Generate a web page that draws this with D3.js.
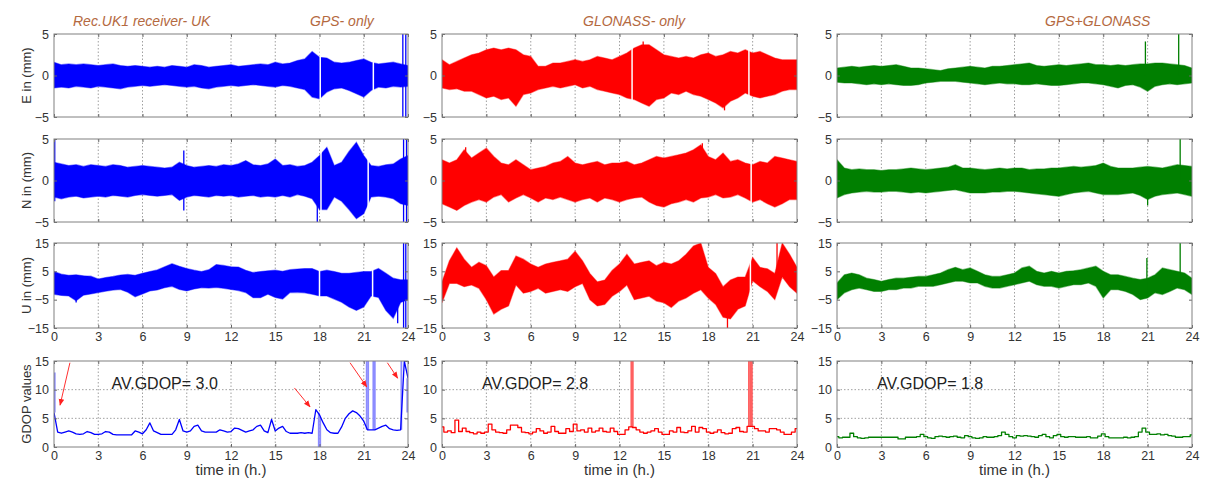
<!DOCTYPE html>
<html>
<head>
<meta charset="UTF-8">
<script src="https://cdn.jsdelivr.net/npm/d3@7"></script>
<style>
  body { margin: 0; background: #fff; }
  svg { font-family: "Liberation Sans", Arial, sans-serif; }
  .tick text { fill: #333; font-size: 12.5px; }
  .tick line { stroke: #666; }
  .domain { display: none; }
</style>
</head>
<body>
<div id="chart"></div>
<script>
// time axis (hours), 0.5 h steps for the position envelopes
var hours = [0,0.5,1,1.5,2,2.5, 3,3.5,4,4.5,5,5.5, 6,6.5,7,7.5,8,8.5, 9,9.5,10,10.5,11,11.5,
  12,12.5,13,13.5,14,14.5, 15,15.5,16,16.5,17,17.5, 18,18.5,19,19.5,20,20.5, 21,21.5,22,22.5,23,23.5, 24];
// 0.25 h steps for GDOP
var hoursQ = [0,0.25,0.5,0.75,1,1.25,1.5,1.75, 2,2.25,2.5,2.75,3,3.25,3.5,3.75, 4,4.25,4.5,4.75,5,5.25,5.5,5.75,
  6,6.25,6.5,6.75,7,7.25,7.5,7.75, 8,8.25,8.5,8.75,9,9.25,9.5,9.75, 10,10.25,10.5,10.75,11,11.25,11.5,11.75,
  12,12.25,12.5,12.75,13,13.25,13.5,13.75, 14,14.25,14.5,14.75,15,15.25,15.5,15.75, 16,16.25,16.5,16.75,17,17.25,17.5,17.75,
  18,18.25,18.5,18.75,19,19.25,19.5,19.75, 20,20.25,20.5,20.75,21,21.25,21.5,21.75, 22,22.25,22.5,22.75,23,23.25,23.5,23.75, 24];

var hourTicks = [0,3,6,9,12,15,18,21,24];
var enTicks = [-5,0,5];
var uTicks = [-15,-5,5,15];
var gdopTicks = [0,5,10,15];

// ---- GPS only (blue) ----  upper / lower envelope of the noise band, mm
var gpsEhi = [1.6,1.3,1.4,1.3,1.4,1.3, 1.2,1.3,1.4,1.2,1.1,1.2, 1.1,1.0,1.1,1.0,1.2,1.1, 1.0,1.3,1.2,1.0,1.1,1.2,
  1.3,1.1,1.2,1.3,1.4,1.3, 1.6,1.4,1.5,1.8,2.0,2.9, 2.2,2.1,1.6,1.5,1.6,1.8, 2.0,1.6,1.4,1.5,1.6,1.4, 1.2];
var gpsElo = [-1.5,-1.4,-1.5,-1.3,-1.4,-1.5, -1.3,-1.4,-1.5,-1.6,-1.4,-1.3, -1.2,-1.3,-1.2,-1.1,-1.2,-1.3, -1.4,-1.3,-1.5,-1.6,-1.4,-1.3,
  -1.2,-1.3,-1.2,-1.1,-1.2,-1.3, -1.4,-1.2,-1.3,-1.5,-1.7,-2.6, -2.8,-2.0,-1.6,-1.5,-1.8,-2.2, -2.6,-1.8,-1.4,-1.5,-1.3,-1.4, -1.3];
var gpsNhi = [2.2,2.0,1.8,1.9,1.7,1.9, 1.8,1.7,1.9,1.8,1.6,1.7, 1.8,1.7,1.6,1.5,1.6,2.2, 1.8,1.6,1.7,1.8,1.7,1.9,
  1.8,2.0,2.4,1.9,1.8,2.0, 2.6,1.8,1.9,1.7,1.8,2.2, 3.0,4.0,1.8,2.2,3.5,4.6, 3.0,1.8,1.7,1.9,2.0,2.6, 3.0];
var gpsNlo = [-2.0,-2.2,-2.0,-1.9,-2.1,-2.0, -1.9,-2.0,-1.8,-1.9,-2.0,-1.8, -1.7,-1.8,-1.9,-1.8,-1.7,-2.4, -2.0,-1.8,-1.9,-2.0,-1.8,-1.9,
  -1.8,-2.0,-1.9,-1.8,-2.0,-1.9, -2.0,-1.8,-2.0,-1.7,-1.9,-2.2, -3.5,-3.5,-2.0,-2.5,-3.5,-4.6, -4.0,-2.0,-1.9,-2.0,-2.2,-2.8, -3.0];
var gpsUhi = [4.9,4.0,3.6,3.8,3.4,3.3, 2.3,2.8,3.2,3.7,3.9,3.6, 4.3,4.9,5.5,6.6,7.7,6.8, 6.0,5.4,4.9,5.6,7.4,7.1,
  6.6,6.5,5.4,4.6,4.9,5.2, 5.4,5.0,5.6,5.8,6.0,6.0, 4.9,5.4,4.9,4.3,4.3,4.6, 4.9,4.9,6.0,4.3,2.6,2.0, 2.0];
var gpsUlo = [-3.1,-3.5,-3.7,-5.4,-3.4,-3.0, -2.5,-2.0,-1.6,-1.4,-2.4,-4.0, -3.0,-1.9,-1.6,-0.8,-0.3,-1.4, -1.9,-1.2,-0.8,-0.9,-0.7,-1.0,
  -1.4,-1.8,-2.5,-4.3,-4.3,-3.1, -4.2,-4.8,-2.5,-2.4,-2.6,-3.1, -3.7,-3.7,-4.8,-5.9,-7.6,-8.8, -7.6,-3.7,-4.2,-8.8,-11.6,-6.0, -5.0];
var gpsGdop = [6.0,2.6,2.4,2.6,2.8,2.6,2.3,2.2, 2.3,2.7,2.5,2.2,2.2,2.3,2.7,2.6, 2.2,2.1,2.1,2.1,2.1,2.1,2.8,2.6,
  2.3,3.0,4.2,2.8,2.5,2.2,2.2,2.2, 2.2,3.0,4.8,2.8,2.6,2.8,3.6,3.8, 2.8,2.6,2.6,2.6,2.6,3.0,2.8,2.6,
  2.7,3.3,3.2,2.9,2.6,2.8,3.0,3.6, 3.8,2.8,2.5,4.8,2.8,3.3,3.6,2.7, 2.4,2.4,2.4,2.5,2.4,2.5,2.4,6.5,
  5.6,4.2,3.0,2.5,2.4,2.4,3.5,5.0, 5.8,6.3,6.0,5.4,4.5,3.0,3.0,3.0, 3.3,3.6,3.8,3.2,3.0,2.9,3.0,15, 12];
// single-epoch spikes [hour, low, high] and data gaps [hour]
var gpsEspikes = [[23.65,-5,5],[23.85,-5,5]];
var gpsNspikes = [[0.05,-2.5,5],[8.8,-3.6,3.6],[17.85,-5,2],[23.7,-5,5],[23.9,-5,5]];
var gpsUspikes = [[1.5,-6,0],[23.3,-13.3,-5],[23.7,-15,15],[23.85,-15,15]];
var gpsGspikes = [[0.05,6,13],[17.95,0,6],[18.05,0,5],[21.2,3,15],[21.3,3,15],[21.65,3,15],[21.75,3,15],[23.55,3,15],[23.95,6,12]];
var gpsEgaps = [18.05,21.65];
var gpsNgaps = [18.1,21.3];
var gpsUgaps = [18.0,21.6];
var gdopArrows = [[1.08,14.7,0.41,7.3],[16.3,10.3,17.36,7.0],[20.07,14.7,21.2,10.5],[22.6,14.7,23.3,12.0]];

// ---- GLONASS only (red) ----
var gloEhi = [1.9,1.3,1.7,2.1,2.5,2.7, 3.1,3.3,3.1,3.3,3.1,2.5, 2.3,1.1,1.1,1.5,1.5,1.7, 1.9,1.7,1.9,2.3,2.1,1.9,
  2.3,2.7,3.3,3.7,3.7,3.1, 2.5,2.3,2.1,2.3,2.1,2.5, 2.7,2.3,2.5,2.9,2.7,3.1, 2.7,2.9,2.5,2.1,1.9,1.9, 1.9];
var gloElo = [-1.5,-1.7,-1.6,-1.9,-1.9,-2.3, -2.7,-2.5,-2.9,-2.7,-3.7,-2.3, -2.1,-1.7,-1.5,-1.3,-1.5,-1.3, -1.1,-1.5,-1.3,-1.7,-1.9,-2.1,
  -2.3,-2.7,-2.9,-3.3,-3.7,-2.9, -2.7,-2.1,-2.3,-1.9,-2.3,-2.5, -2.9,-3.3,-3.9,-3.1,-2.7,-2.1, -2.5,-2.7,-2.5,-2.3,-1.9,-1.7, -1.7];
var gloNhi = [2.5,2.1,2.5,3.7,2.7,3.3, 3.9,2.9,2.1,1.9,2.5,1.9, 1.3,1.5,1.7,2.1,2.3,2.9, 2.1,1.9,2.1,2.3,1.9,2.1,
  2.1,2.3,1.9,2.1,2.5,2.9, 2.7,2.9,3.1,3.3,3.7,4.3, 2.9,2.5,3.3,2.3,2.5,2.1, 1.9,2.3,2.1,2.9,2.7,2.5, 2.3];
var gloNlo = [-2.8,-3.2,-3.6,-3.0,-2.6,-2.3, -2.6,-2.0,-1.7,-2.6,-2.1,-1.7, -2.1,-2.6,-2.1,-2.3,-2.0,-2.3, -2.6,-2.3,-2.1,-2.6,-2.1,-2.3,
  -2.6,-2.3,-2.1,-2.0,-2.6,-3.0, -3.2,-2.8,-2.6,-2.3,-2.6,-2.1, -2.0,-1.7,-2.1,-2.0,-1.7,-2.1, -2.6,-2.3,-2.8,-3.2,-2.8,-2.3, -2.3];
var gloUhi = [1.3,8.7,13.3,9.3,6.4,8.2, 7.0,3.0,5.3,5.3,10.4,9.3, 7.6,6.4,7.6,8.2,8.7,9.3, 12.1,8.7,4.2,1.3,1.9,5.3,
  7.6,11.0,7.6,8.2,8.7,7.0, 8.2,7.6,8.7,11.0,13.9,15, 6.4,4.2,-0.4,1.9,3.0,3.0, 9.9,6.4,5.9,4.2,15,11.0, 6.4];
var gloUlo = [-6.1,0.7,0.7,-0.4,0.2,-1.0, -5.0,-10.1,-8.4,-7.2,0.2,-2.7, -2.1,-1.0,-2.7,-2.1,-1.5,-2.1, -0.4,0.7,-5.0,-7.2,-6.7,-3.8,
  -2.1,0.2,-5.0,-4.4,-3.8,-5.5, -6.1,-7.8,-5.5,-4.4,-2.7,-1.5, -4.4,-6.7,-11.2,-11.8,-8.4,-7.2, 1.7,-0.4,-2.1,-5.0,3.0,-0.4, -2.7];
var gloGdop = [3.5,2.6,2.8,2.5,4.7,2.7,3.3,2.7, 2.5,2.3,2.6,2.4,2.6,4.0,3.0,2.6, 2.5,2.4,3.0,3.8,3.8,3.4,2.6,2.5,
  2.3,2.6,3.2,2.8,2.4,2.6,3.6,2.7, 2.4,2.4,3.2,2.7,4.0,2.8,3.0,2.6, 3.3,2.6,2.8,3.3,2.7,2.6,3.3,2.7,
  2.2,2.2,3.0,3.5,3.4,3.0,2.6,2.4, 2.6,2.8,3.2,2.6,2.2,2.2,2.8,2.6, 3.4,2.6,2.5,2.8,3.6,2.6,3.4,3.2,
  2.6,2.4,2.6,3.0,2.5,2.3,2.4,3.2, 3.4,2.7,2.6,3.6,3.6,3.2,2.8,2.8, 2.6,3.2,3.2,3.0,2.6,2.2,2.2,2.6, 3.2];
var gloEspikes = [[13.6,0,4.1],[19.1,-4.2,0]];
var gloNspikes = [[1.6,0,4.0],[17.6,0,4.5]];
var gloUspikes = [[19.3,-15,-8],[22.65,2,15]];
var gloGspikes = [[12.8,3.5,15],[12.9,3.5,15],[20.75,3.6,15],[20.85,3.6,15],[20.95,3.6,15]];
var gloEgaps = [12.85,20.75];
var gloNgaps = [20.9];
var gloUgaps = [20.85];

// ---- GPS + GLONASS (green) ----
var bothEhi = [0.9,1.0,1.1,1.0,1.1,1.2, 1.1,1.2,1.3,1.1,0.9,0.9, 0.8,0.7,0.6,0.8,0.9,1.0, 1.1,1.0,0.9,1.1,1.1,1.2,
  1.3,1.4,1.5,1.2,1.1,1.2, 1.3,1.2,1.3,1.4,1.5,1.3, 1.3,1.2,1.3,1.2,1.3,1.4, 1.4,1.5,1.5,1.4,1.3,1.2, 0.9];
var bothElo = [-0.8,-0.9,-0.9,-1.0,-1.1,-1.0, -1.1,-1.0,-1.1,-1.2,-1.2,-1.1, -0.9,-0.8,-0.7,-0.7,-0.7,-0.8, -0.9,-1.0,-1.1,-1.0,-0.9,-1.0,
  -1.0,-1.1,-1.1,-1.0,-1.1,-1.2, -1.2,-1.1,-1.0,-0.9,-0.9,-1.0, -1.1,-1.3,-1.5,-1.2,-1.1,-1.4, -1.9,-1.3,-1.1,-1.0,-1.1,-1.0, -0.9];
var bothNhi = [2.5,1.5,1.3,1.4,1.3,1.3, 1.2,1.3,1.3,1.4,1.5,1.4, 1.3,1.4,1.5,1.6,1.9,1.5, 1.5,1.4,1.3,1.4,1.5,1.4,
  1.5,1.5,1.3,1.4,1.4,1.5, 1.5,1.6,1.7,1.6,1.7,1.8, 2.1,1.7,1.5,1.5,1.5,1.6, 1.7,1.6,1.5,1.7,1.9,1.8, 1.7];
var bothNlo = [-2.1,-1.7,-1.5,-1.4,-1.3,-1.4, -1.4,-1.3,-1.3,-1.4,-1.5,-1.4, -1.5,-1.4,-1.3,-1.2,-1.1,-1.3, -1.5,-1.5,-1.5,-1.4,-1.4,-1.3,
  -1.3,-1.4,-1.5,-1.6,-1.7,-1.8, -1.9,-1.7,-1.5,-1.4,-1.3,-1.5, -1.7,-1.7,-1.7,-1.6,-1.5,-1.8, -2.3,-1.9,-1.7,-1.6,-1.5,-1.7, -1.9];
var bothUhi = [0.9,3.8,4.4,3.8,2.6,2.1, 1.5,2.1,2.6,2.6,2.9,3.2, 3.2,3.8,4.4,5.6,6.4,5.6, 6.2,5.0,3.8,3.2,3.2,3.8,
  4.4,6.2,6.8,5.0,4.4,5.0, 4.4,5.0,5.2,5.6,6.2,6.8, 5.0,3.8,3.8,3.2,2.6,2.1, 2.6,3.8,6.2,5.6,5.0,4.4, 2.6];
var bothUlo = [-5.0,-2.6,-1.5,-0.9,-1.5,-2.1, -2.1,-1.5,-1.5,-0.9,-0.9,-0.3, -0.3,-0.3,0.3,0.9,1.5,1.5, 0.9,0.9,-0.3,-0.9,-0.9,-0.3,
  0.3,0.9,1.5,0.3,-0.3,-0.3, -0.9,-0.3,0.3,0.3,0.9,-0.3, -4.4,-1.5,-1.5,-2.1,-3.2,-5.0, -4.4,-2.6,-3.2,-2.1,-0.9,-1.5, -3.2];
var bothGdop = [1.8,1.6,1.7,1.7,2.4,1.8,1.6,1.5, 1.6,1.7,1.7,1.7,1.7,1.7,1.7,1.7, 1.7,1.4,1.4,1.7,1.7,1.7,1.8,2.2,
  1.8,1.6,1.5,1.8,1.9,1.8,1.7,1.8, 1.9,1.7,1.6,2.0,1.8,1.6,1.5,1.6, 1.8,1.7,1.7,1.8,2.0,2.6,2.2,1.8,
  1.6,2.0,1.9,2.0,1.9,1.8,1.7,2.0, 2.2,1.8,1.6,2.0,2.2,1.8,1.7,1.8, 1.8,1.7,1.7,1.7,1.8,1.6,1.6,1.9,
  2.3,1.8,1.6,1.6,1.6,1.6,1.7,1.6, 1.7,1.8,2.6,3.3,2.6,2.2,2.2,2.3, 2.1,2.2,2.0,1.9,1.7,1.7,1.8,1.8, 2.1];
var bothEspikes = [[20.85,0,4.1],[23.1,0,5]];
var bothNspikes = [[21.0,-3.0,0],[23.2,0,5]];
var bothUspikes = [[20.95,-3,9.7],[23.2,0,15]];

var gdopAverages = ["AV.GDOP= 3.0", "AV.GDOP= 2.8", "AV.GDOP= 1.8"];
var gdopLabelAt = [[3.9, 10.1], [2.7, 10.1], [2.7, 10.1]];   // [hour, GDOP] of the label baseline
var columnTitles = [[["Rec.UK1 receiver- UK", 73], ["GPS- only", 310]], [["GLONASS- only", 583]], [["GPS+GLONASS", 1045]]];
var rowLabels = ["E in (mm)", "N in (mm)", "U in (mm)", "GDOP values"];

// ---- layout ----
var width = 1205, height = 485;
var cols = [[54, 408], [442, 797], [837, 1192]];
var rows = [[34, 117], [139, 222], [243, 328], [361, 447]];

var columns = [
  { color: "#0000ff", light: "#8c8cff", curve: d3.curveLinear,
    bands: [[gpsEhi, gpsElo, gpsEspikes, gpsEgaps], [gpsNhi, gpsNlo, gpsNspikes, gpsNgaps], [gpsUhi, gpsUlo, gpsUspikes, gpsUgaps]],
    gdop: gpsGdop, gspikes: gpsGspikes },
  { color: "#ff0000", light: "#ff6060", curve: d3.curveStep,
    bands: [[gloEhi, gloElo, gloEspikes, gloEgaps], [gloNhi, gloNlo, gloNspikes, gloNgaps], [gloUhi, gloUlo, gloUspikes, gloUgaps]],
    gdop: gloGdop, gspikes: gloGspikes },
  { color: "#007f00", light: "#4ca64c", curve: d3.curveStep,
    bands: [[bothEhi, bothElo, bothEspikes, []], [bothNhi, bothNlo, bothNspikes, []], [bothUhi, bothUlo, bothUspikes, []]],
    gdop: bothGdop, gspikes: [] }
];

var svg = d3.select("#chart").append("svg")
  .attr("width", width).attr("height", height);

var defs = svg.append("defs");
defs.append("marker").attr("id", "arrow")
  .attr("viewBox", "0 0 10 10").attr("refX", 9).attr("refY", 5)
  .attr("markerWidth", 7).attr("markerHeight", 7).attr("orient", "auto")
  .append("path").attr("d", "M0,1 L10,5 L0,9 z").attr("fill", "#ff2020");

var domains = [[-5, 5], [-5, 5], [-15, 15], [0, 15]];
var yTicks = [enTicks, enTicks, uTicks, gdopTicks];

columns.forEach(function (col, ci) {
  var x = d3.scaleLinear().domain([0, 24]).range(cols[ci]);

  rows.forEach(function (r, ri) {
    var y = d3.scaleLinear().domain(domains[ri]).range([r[1], r[0]]);
    var id = "clip" + ci + "_" + ri;
    defs.append("clipPath").attr("id", id).append("rect")
      .attr("x", cols[ci][0]).attr("y", r[0])
      .attr("width", cols[ci][1] - cols[ci][0]).attr("height", r[1] - r[0]);

    var g = svg.append("g");

    // dotted grid
    g.selectAll(".vg").data(hourTicks.slice(1, -1)).enter().append("line")
      .attr("x1", x).attr("x2", x).attr("y1", r[0]).attr("y2", r[1])
      .attr("stroke", "#888").attr("stroke-dasharray", "1.5,2").attr("stroke-width", 0.8);
    if (ri === 3) {
      g.selectAll(".hg").data([5, 10]).enter().append("line")
        .attr("x1", cols[ci][0]).attr("x2", cols[ci][1]).attr("y1", y).attr("y2", y)
        .attr("stroke", "#888").attr("stroke-dasharray", "1.5,2").attr("stroke-width", 0.8);
    }

    var plot = g.append("g").attr("clip-path", "url(#" + id + ")");

    if (ri < 3) {
      var b = col.bands[ri], hi = b[0], lo = b[1];
      var area = d3.area()
        .x(function (d, i) { return x(hours[i]); })
        .y0(function (d, i) { return y(lo[i]); })
        .y1(function (d, i) { return y(hi[i]); });
      plot.append("path").attr("d", area(hours))
        .attr("fill", col.color).attr("stroke", col.color).attr("stroke-opacity", 0.45).attr("stroke-width", 1.2);
      plot.selectAll(".sp").data(b[2]).enter().append("line")
        .attr("x1", function (d) { return x(d[0]); }).attr("x2", function (d) { return x(d[0]); })
        .attr("y1", function (d) { return y(d[1]); }).attr("y2", function (d) { return y(d[2]); })
        .attr("stroke", col.color).attr("stroke-width", 1.3);
      plot.selectAll(".gap").data(b[3]).enter().append("line")
        .attr("x1", x).attr("x2", x).attr("y1", r[0]).attr("y2", r[1])
        .attr("stroke", "#fff").attr("stroke-width", 1.5);
    } else {
      var line = d3.line()
        .x(function (d, i) { return x(hoursQ[i]); })
        .y(function (d) { return y(d); })
        .curve(col.curve);
      plot.selectAll(".sp").data(col.gspikes).enter().append("line")
        .attr("x1", function (d) { return x(d[0]); }).attr("x2", function (d) { return x(d[0]); })
        .attr("y1", function (d) { return y(d[1]); }).attr("y2", function (d) { return y(d[2]); })
        .attr("stroke", col.light).attr("stroke-width", 1.8);
      plot.append("path").attr("d", line(col.gdop))
        .attr("fill", "none").attr("stroke", col.color).attr("stroke-width", 1.3)
        .attr("stroke-linejoin", "round");
      svg.append("text").attr("x", x(gdopLabelAt[ci][0])).attr("y", y(gdopLabelAt[ci][1]))
        .attr("font-size", 16).attr("fill", "#222").text(gdopAverages[ci]);
      if (ci === 0) {
        svg.selectAll(".arrow").data(gdopArrows).enter().append("line")
          .attr("x1", function (d) { return x(d[0]); }).attr("y1", function (d) { return y(d[1]); })
          .attr("x2", function (d) { return x(d[2]); }).attr("y2", function (d) { return y(d[3]); })
          .attr("stroke", "#ff3030").attr("stroke-width", 1).attr("marker-end", "url(#arrow)");
      }
    }

    // axes with inward ticks
    g.append("g").attr("transform", "translate(" + cols[ci][0] + ",0)")
      .call(d3.axisLeft(y).tickValues(yTicks[ri]).tickSizeInner(-3).tickSizeOuter(0).tickPadding(5));
    g.append("g").attr("transform", "translate(" + cols[ci][1] + ",0)")
      .call(d3.axisRight(y).tickValues(yTicks[ri]).tickSize(-3).tickFormat(""));
    var xb = g.append("g").attr("transform", "translate(0," + r[1] + ")")
      .call(d3.axisBottom(x).tickValues(hourTicks).tickSizeInner(-3).tickSizeOuter(0).tickPadding(4));
    if (ri < 2) xb.selectAll("text").remove();
    g.append("g").attr("transform", "translate(0," + r[0] + ")")
      .call(d3.axisTop(x).tickValues(hourTicks).tickSize(-3).tickFormat(""));

    g.append("rect").attr("x", cols[ci][0]).attr("y", r[0])
      .attr("width", cols[ci][1] - cols[ci][0]).attr("height", r[1] - r[0])
      .attr("fill", "none").attr("stroke", "#808080").attr("stroke-width", 1);

    if (ci === 0) {
      svg.append("text")
        .attr("transform", "translate(31," + ((r[0] + r[1]) / 2) + ") rotate(-90)")
        .attr("text-anchor", "middle").attr("font-size", 13).attr("fill", "#333")
        .text(rowLabels[ri]);
    }
  });

  svg.append("text").attr("x", (cols[ci][0] + cols[ci][1]) / 2).attr("y", 475)
    .attr("text-anchor", "middle").attr("font-size", 15).attr("fill", "#333")
    .text("time in (h.)");

  columnTitles[ci].forEach(function (t) {
    svg.append("text").attr("x", t[1]).attr("y", 26)
      .attr("font-size", 14).attr("font-style", "italic").attr("fill", "#b4693f")
      .text(t[0]);
  });
});
</script>
</body>
</html>
